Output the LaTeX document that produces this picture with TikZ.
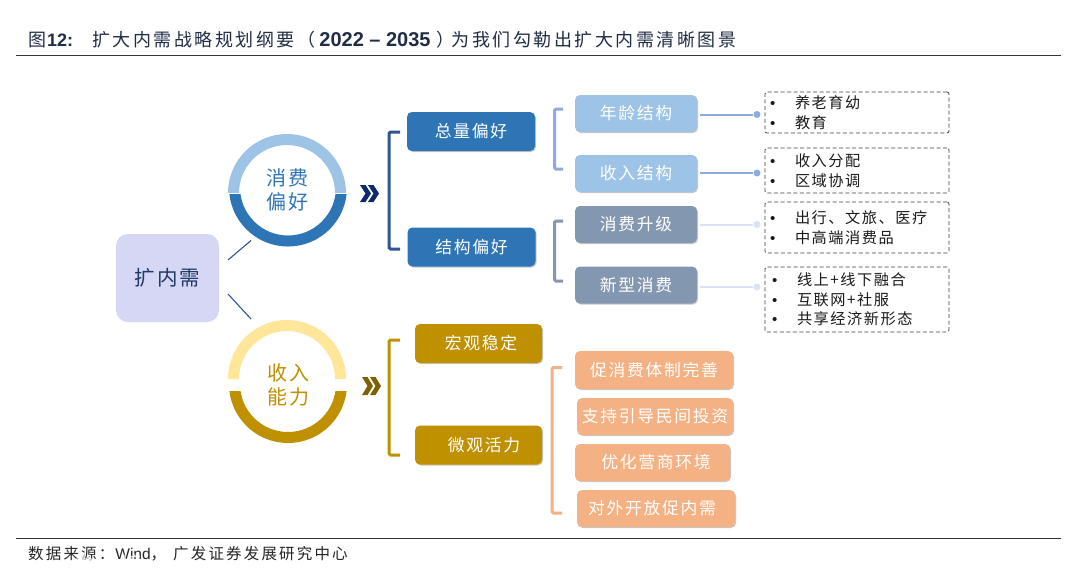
\documentclass[tikz,border=0pt]{standalone}
\usepackage{fontspec}
\setmainfont{Liberation Sans}
\newfontfamily\cjk[LetterSpace=10]{Noto Sans CJK SC}
\newfontfamily\cjkt[LetterSpace=14]{Noto Sans CJK SC}
\usetikzlibrary{shadows,calc}
\definecolor{deepblue}{HTML}{2E75B6}
\definecolor{midblue}{HTML}{9DC3E6}
\definecolor{slate}{HTML}{8497B0}
\definecolor{navy}{HTML}{1F3864}
\definecolor{brack}{HTML}{2F5597}
\definecolor{gold}{HTML}{BF9000}
\definecolor{lightgold}{HTML}{FFE699}
\definecolor{peach}{HTML}{F4B183}
\definecolor{lav}{HTML}{D6D6F5}
\definecolor{periw}{HTML}{8FAADC}
\definecolor{pale}{HTML}{DAE3F3}
\definecolor{titlecol}{HTML}{1F2D45}
\definecolor{chevblue}{HTML}{0F2A6B}
\definecolor{chevgold}{HTML}{7F6000}
\tikzset{
  pill/.style={rounded corners=5pt,text=white,font=\cjk\fontsize{16.8}{18}\selectfont,inner sep=0pt,
    drop shadow={shadow xshift=1pt,shadow yshift=-1pt,opacity=.22,fill=black}},
  dashbox/.style={draw=black!75,dashed,dash pattern=on 4pt off 2.5pt,line width=.8pt,rounded corners=2pt,inner sep=0pt,
    font=\cjk\fontsize{15.2}{19.6}\selectfont,text=black!90,align=left},
  bracketline/.style={line width=3pt,rounded corners=1.5pt},
  tie/.style={line width=2pt},
  tipdot/.style={circle,inner sep=0pt,minimum size=7pt},
  ringtext/.style={font=\cjk\fontsize{20}{24.5}\selectfont,align=center,inner sep=0pt},
  rulerl/.style={line width=.8pt,draw=black!80},
}
\newcommand{\bl}[1]{\makebox[25pt][l]{\fontsize{15}{15}\selectfont\rmfamily\textbullet}#1}
\newcommand{\tc}{\cjkt\mdseries\fontsize{18}{20}\selectfont}
\newcommand{\tl}[1]{\fontsize{#1}{20}\selectfont\rmfamily\bfseries}
\newcommand{\ring}[7]{%
  \draw[line width=11pt,#5] (#1-#7,#2) arc[start angle=180,end angle=360,radius=#7];
  \begin{scope}
    \clip (#1-70,#4) rectangle (#1+70,#4+80);
    \draw[line width=11pt,#6] (#1+1+#7,#3) arc[start angle=0,end angle=180,radius=#7];
  \end{scope}}
\begin{document}
\begin{tikzpicture}[x=1pt,y=-1pt]
\useasboundingbox[fill=white] (0,0) rectangle (1080,582);
% header / footer
\coordinate (tl) at (16,55); \coordinate (tr) at (1061,55);
\coordinate (bl) at (16,538); \coordinate (br) at (1061,538);
\draw[rulerl] (tl) -- (tr);
\draw[rulerl] (bl) -- (br);
\node[anchor=west,inner sep=0pt,text=titlecol] (title) at (28,39.5) {\tc 图\hspace{1pt}\tl{18}12:\hspace{19pt}\tc 扩大内需战略规划纲要（\hspace{4pt}\tl{20}2022 – 2035\tc\hspace{6pt}）\hspace{-3pt}为我们勾勒出扩大内需清晰图景};
\node[anchor=west,inner sep=0pt,text=black!85] (src) at (28,553.5) {\cjkt\fontsize{15.5}{18}\selectfont 数据来源：\hspace{1pt}\rmfamily\fontsize{15.5}{18}\selectfont Wind\cjkt\fontsize{15.5}{18}\selectfont ，\hspace{7pt}广发证券发展研究中心};
% root
\node[fill=lav,rounded corners=12pt,minimum width=103pt,minimum height=88pt,inner sep=0pt,text=navy,font=\cjk\fontsize{20.5}{24}\selectfont] (root) at (167.5,278) {扩内需};
\coordinate (a1) at (228,260); \coordinate (a2) at (251,240.5);
\coordinate (b1) at (228,294); \coordinate (b2) at (251,319);
\draw[line width=1.1pt,brack] (a1) -- (a2);
\draw[line width=1.1pt,brack] (b1) -- (b2);
% rings
\ring{287}{193}{187.5}{194}{midblue}{deepblue}{53.5}
\ring{287}{379}{384}{391}{lightgold}{gold}{53.5}
\node[ringtext,text=deepblue] (c1) at (287,190) {消费\\偏好};
\node[ringtext,text=gold] (c2) at (288,385) {收入\\能力};
% chevrons
\fill[chevblue] (360,185) -- (365.5,185) -- (371,193.5) -- (365.5,202) -- (360,202) -- (365.5,193.5) -- cycle;
\fill[chevblue] (368,185) -- (373.5,185) -- (379,193.5) -- (373.5,202) -- (368,202) -- (373.5,193.5) -- cycle;
\fill[chevgold] (362,377) -- (367.5,377) -- (373,386) -- (367.5,395) -- (362,395) -- (367.5,386) -- cycle;
\fill[chevgold] (370,377) -- (375.5,377) -- (381,386) -- (375.5,395) -- (370,395) -- (375.5,386) -- cycle;
% level 2
\node[pill,fill=deepblue,minimum width=128pt,minimum height=39pt] (z1) at (471,131.5) {总量偏好};
\node[pill,fill=deepblue,minimum width=128pt,minimum height=39pt] (z2) at (471.5,247) {结构偏好};
\node[pill,fill=gold,minimum width=127pt,minimum height=39pt] (g1) at (478.5,343.5) {\hspace*{5pt}宏观稳定};
\node[pill,fill=gold,minimum width=127pt,minimum height=39pt] (g2) at (478.5,445) {\hspace*{11pt}微观活力};
% brackets level 2
\coordinate (s1) at (400,132); \coordinate (s2) at (400,249);
\draw[bracketline,brack] (s1) -- (389,132) -- (389,249) -- (s2);
\coordinate (s3) at (400,340); \coordinate (s4) at (400,455);
\draw[bracketline,gold] (s3) -- (389,340) -- (389,455) -- (s4);
% level 3
\node[pill,fill=midblue,minimum width=122pt,minimum height=37pt] (n1) at (636,113.5) {\raisebox{-1pt}{年龄结构}};
\node[pill,fill=midblue,minimum width=122pt,minimum height=37pt] (n2) at (636,173.5) {\raisebox{-1pt}{收入结构}};
\node[pill,fill=slate,minimum width=122pt,minimum height=37pt] (n3) at (636,224.5) {\raisebox{-1.5pt}{消费升级}};
\node[pill,fill=slate,minimum width=122pt,minimum height=37pt] (n4) at (636,285) {\raisebox{-1pt}{新型消费}};
\coordinate (t1) at (563,109); \coordinate (t2) at (563,169);
\draw[bracketline,periw] (t1) -- (554.5,109) -- (554.5,169) -- (t2);
\coordinate (t3) at (563,221); \coordinate (t4) at (563,281);
\draw[bracketline,slate] (t3) -- (554.5,221) -- (554.5,281) -- (t4);
% dots
\node[tipdot,fill=periw] (d1) at (757,114.5) {};
\node[tipdot,fill=periw] (d2) at (757,173) {};
\node[tipdot,fill=pale] (d3) at (757,224.5) {};
\node[tipdot,fill=pale] (d4) at (757,287) {};
\draw[tie,periw,shorten <=3pt] (n1.east |- d1) -- (d1);
\draw[tie,periw,shorten <=3pt] (n2.east |- d2) -- (d2);
\draw[tie,pale,shorten <=3pt] (n3.east |- d3) -- (d3);
\draw[tie,pale,shorten <=3pt] (n4.east |- d4) -- (d4);
% dashed boxes
\node[dashbox,minimum width=184pt,minimum height=41pt,text width=174pt] (x1) at (857,112.5) {\bl{养老育幼}\\\bl{教育}};
\node[dashbox,minimum width=184pt,minimum height=45pt,text width=174pt] (x2) at (857,170.5) {\bl{收入分配}\\\bl{区域协调}};
\node[dashbox,minimum width=184pt,minimum height=51pt,text width=174pt] (x3) at (857,227.5) {\bl{出行、文旅、医疗}\\\bl{中高端消费品}};
\node[dashbox,minimum width=184pt,minimum height=65pt,text width=170pt] (x4) at (857,299.5) {\bl{线上+线下融合}\\\bl{互联网+社服}\\\bl{共享经济新形态}};
% peach
\node[pill,fill=peach,minimum width=158pt,minimum height=38pt] (p1) at (654,370) {促消费体制完善};
\node[pill,fill=peach,minimum width=156pt,minimum height=37pt] (p2) at (655,416.5) {支持引导民间投资};
\node[pill,fill=peach,minimum width=155pt,minimum height=37pt] (p3) at (652.5,462.5) {\hspace*{7pt}优化营商环境};
\node[pill,fill=peach,minimum width=158pt,minimum height=37pt] (p4) at (656,508.5) {\hspace*{-8pt}对外开放促内需};
\coordinate (u1) at (562,367.5); \coordinate (u2) at (562,513);
\draw[bracketline,peach] (u1) -- (552,367.5) -- (552,513) -- (u2);
% watermark
\node[anchor=west,inner sep=0pt,text=white,opacity=.8,font=\cjk\fontsize{21}{24}\selectfont] (wm) at (52,564) {大数跨境};
\coordinate (w0) at (21,564);
\draw[white,opacity=.8,line width=2.5pt] (w0) ++(8,-7) arc[start angle=-40,end angle=-270,radius=10];
\end{tikzpicture}
\end{document}
